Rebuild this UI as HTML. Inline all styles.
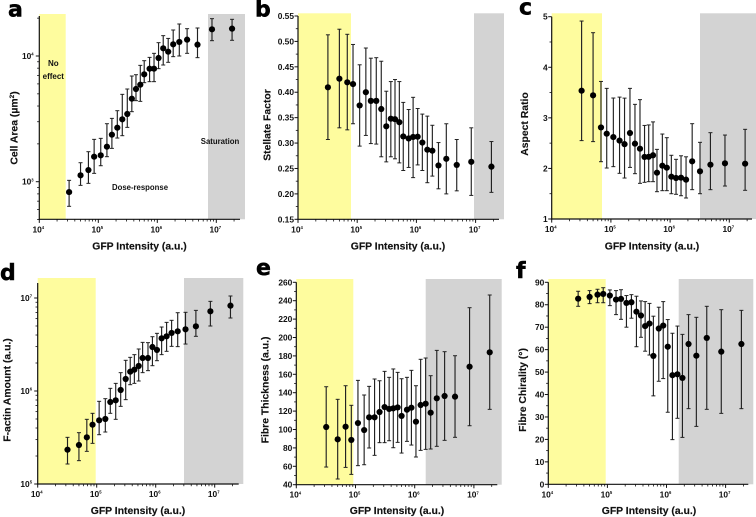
<!DOCTYPE html>
<html lang="en">
<head>
<meta charset="utf-8">
<title>GFP intensity dose-response panels</title>
<style>
html,body{margin:0;padding:0;background:#fff;}
body{width:756px;height:517px;overflow:hidden;}
svg{display:block;filter:blur(.3px);}
text{font-family:"Liberation Sans",sans-serif;font-weight:bold;fill:#111;}
.title{font-size:10.4px;text-anchor:middle;stroke:#111;stroke-width:.15px;}
.letter{font-family:"DejaVu Sans",sans-serif;font-size:22px;font-weight:bold;fill:#000;stroke:#000;stroke-width:.5px;}
.note{font-size:8px;text-anchor:middle;}
.tick{font-size:8.4px;}
.sup{font-size:4.2px;}
</style>
</head>
<body>
<svg id="figure" xmlns="http://www.w3.org/2000/svg" width="756" height="517" viewBox="0 0 756 517">
  <rect x="0" y="0" width="756" height="517" fill="#fff"/>

  <rect x="39.3" y="14" width="26.4" height="205.3" fill="#fefc9e"/>
  <rect x="208" y="14" width="37" height="205.3" fill="#d3d3d3"/>
  <rect x="298" y="13.3" width="53" height="206" fill="#fefc9e"/>
  <rect x="474" y="13.3" width="30" height="206" fill="#d3d3d3"/>
  <rect x="551.7" y="13.3" width="50.3" height="205.7" fill="#fefc9e"/>
  <rect x="700" y="13.3" width="56" height="205.7" fill="#d3d3d3"/>
  <rect x="37.7" y="278" width="58" height="206" fill="#fefc9e"/>
  <rect x="184" y="278" width="59.3" height="206" fill="#d3d3d3"/>
  <rect x="296.3" y="279" width="57" height="205.7" fill="#fefc9e"/>
  <rect x="425.7" y="279" width="76" height="205.7" fill="#d3d3d3"/>
  <rect x="548.3" y="279" width="57.4" height="205.3" fill="#fefc9e"/>
  <rect x="678.7" y="279" width="74.6" height="205.3" fill="#d3d3d3"/>

  <text class="letter" x="8" y="16.7">a</text>
  <text class="letter" x="255" y="16.7">b</text>
  <text class="letter" x="519" y="14.5">c</text>
  <text class="letter" x="0" y="280">d</text>
  <text class="letter" x="256" y="275">e</text>
  <text class="letter" x="516" y="278">f</text>

  <text class="note" x="53.3" y="66">No</text>
  <text class="note" x="53.3" y="79">effect</text>
  <text class="note" x="140" y="190" textLength="56" lengthAdjust="spacingAndGlyphs">Dose-response</text>
  <text class="note" x="220" y="144" textLength="38.5" lengthAdjust="spacingAndGlyphs">Saturation</text>

  <text class="title" x="139.5" y="249.5">GFP Intensity (a.u.)</text>
  <text class="title" x="398" y="249.5">GFP Intensity (a.u.)</text>
  <text class="title" x="652" y="249.5">GFP Intensity (a.u.)</text>
  <text class="title" x="138" y="514">GFP Intensity (a.u.)</text>
  <text class="title" x="397" y="514">GFP Intensity (a.u.)</text>
  <text class="title" x="649" y="514">GFP Intensity (a.u.)</text>

  <text class="title" transform="translate(17.5,128) rotate(-90)">Cell Area (µm<tspan font-size="6.5" dy="-3.5">2</tspan><tspan dy="3.5">)</tspan></text>
  <text class="title" transform="translate(270.5,125) rotate(-90)">Stellate Factor</text>
  <text class="title" transform="translate(528,124) rotate(-90)">Aspect Ratio</text>
  <text class="title" transform="translate(10.5,390) rotate(-90)">F-actin Amount (a.u.)</text>
  <text class="title" transform="translate(268.5,390) rotate(-90)">Fibre Thickness (a.u.)</text>
  <text class="title" transform="translate(526,390) rotate(-90)">Fibre Chirality (°)</text>
</svg>

<script>
const gfpIntensity = [3.2e4,5e4,6.8e4,8.5e4,1.1e5,1.4e5,1.7e5,2.1e5,2.55e5,3.1e5,3.7e5,4.35e5,5.15e5,6e5,7.4e5,8.8e5,1.05e6,1.26e6,1.53e6,1.86e6,2.36e6,3.2e6,4.8e6,8.45e6,1.85e7];
const xTickExponents = [4,5,6,7];

const cellAreaMean = [827,1123,1238,1581,1620,1899,2366,2690,3133,3456,4576,5462,5914,7146,7929,7929,9638,11510,10826,12380,12925,13490,12310,16300,16500];
const cellAreaLow = [637,935,970,1165,1340,1581,1841,2225,2323,2705,3606,4412,4356,6135,6250,6250,7930,8480,8905,9880,10000,10500,9700,13240,13330];
const cellAreaHigh = [1025,1416,1733,2172,2212,2894,3190,3673,4954,5462,6930,7100,8425,9180,9750,10500,12770,14520,13800,16100,17970,16500,16700,19820,19580];
const cellAreaTickExponents = [3,4];

const stellateMean = [.4097,.4267,.4195,.416,.374,.4,.383,.383,.367,.333,.348,.347,.341,.313,.309,.312,.3125,.301,.287,.285,.256,.269,.257,.263,.2536];
const stellateLow = [.307,.33,.326,.338,.294,.315,.299,.298,.273,.263,.273,.269,.261,.246,.252,.232,.257,.246,.222,.235,.21,.2,.206,.197,.203];
const stellateHigh = [.513,.524,.514,.494,.454,.487,.467,.468,.461,.402,.421,.425,.421,.38,.366,.39,.368,.357,.353,.335,.301,.338,.307,.33,.303];
const stellateTicks = [.15,.2,.25,.3,.35,.4,.45,.5,.55];

const aspectMean = [3.537,3.445,2.81,2.687,2.62,2.55,2.48,2.7,2.49,2.39,2.226,2.23,2.26,1.916,2.054,2.015,1.837,1.81,1.817,1.778,2.14,1.942,2.074,2.1,2.094];
const aspectLow = [2.55,2.53,2.133,2.008,2.035,1.903,1.81,2.02,1.896,1.705,1.725,1.738,1.738,1.54,1.56,1.56,1.5,1.488,1.46,1.415,1.58,1.5,1.58,1.652,1.567];
const aspectHigh = [4.914,4.684,3.72,3.583,3.392,3.41,3.39,3.583,3.267,3.36,2.85,2.86,2.92,2.377,2.68,2.608,2.26,2.18,2.25,2.23,2.885,2.516,2.707,2.66,2.773];
const aspectTicks = [1,2,3,4,5];

const actinMean = [234000,262600,317500,434500,483700,500000,761500,793600,1025000,1346000,1614000,1696000,1857000,2263000,2263000,2972000,2761000,3683000,3872000,4206000,4381000,4602000,4959000,7193000,8273000];
const actinLow = [164100,178200,224400,273500,338900,362200,575400,495900,683900,807200,1169000,1208000,1281000,1575000,1655000,1871000,2118000,2460000,2670000,3020000,2999000,3199000,3872000,5000000,6095000];
const actinHigh = [317500,356400,495900,575400,774500,827300,1068000,1208000,1575000,2138000,2301000,2460000,2829000,3334000,3311000,3837000,4169000,4875000,5470000,5754000,6950000,7015000,7362000,9205000,10510000];
const actinTickExponents = [5,6,7];

const thicknessMean = [102.7,89.3,103,88.6,107,99.4,113.2,113.2,119,124.4,122.3,123,124,114.7,121.5,123.7,108.5,126.6,128,118.3,133.9,136.4,135.7,168.3,183.9];
const thicknessLow = [59.2,46.2,58.8,51.2,60.7,61.7,79.9,71.9,85.7,85.7,87.8,80.2,86,74.4,87.1,83.1,70.1,77.3,78.4,78.8,81.7,88.2,91.5,104.1,121.9];
const thicknessHigh = [146.5,132.8,147.6,126.3,153.4,137.5,146.9,154.9,153,163.2,156.7,165.8,162.1,155.2,156.7,164.3,147.6,176.3,177.7,158.5,186,184.6,180.2,232.4,246.2];
const thicknessTicks = [40,60,80,100,120,140,160,180,200,220,240,260];

const chiralityMean = [82.7,83.5,84.5,84.8,84.1,82.3,82.6,80.8,81.1,76.9,75.2,70.5,71.6,57.2,69.4,70.7,61.3,48.6,49,47.4,62.5,57.3,65.2,59.1,62.5];
const chiralityLow = [79.3,80.5,80.9,80.9,79.6,75.6,73.5,70,74,61.3,65.5,59.3,57.6,39.4,45.9,47.1,32.1,19.9,29.4,20.9,33.7,25.8,33.4,31.6,33.7];
const chiralityHigh = [86,86.3,86.9,87.6,86.6,86.3,86.7,84.1,84.5,83.8,81.7,81.4,80.6,74.9,78.9,81.4,73.4,67.3,70.5,66.8,75.6,74.4,79.3,77.8,77.5];
const chiralityTicks = [0,10,20,30,40,50,60,70,80,90];

const NS = 'http://www.w3.org/2000/svg';
const figure = document.getElementById('figure');

function addLine(parent, name, x1, y1, x2, y2, color, width) {
  const line = document.createElementNS(NS, 'line');
  
  
  line.setAttribute('x1', x1);
  line.setAttribute('y1', y1);
  line.setAttribute('x2', x2);
  line.setAttribute('y2', y2);
  line.setAttribute('stroke', color);
  line.setAttribute('stroke-width', width);
  parent.appendChild(line);
}

function addTickLabel(parent, name, x, y, anchor, base, exponent) {
  const label = document.createElementNS(NS, 'text');
  
  
  label.setAttribute('class', 'tick');
  label.setAttribute('x', x);
  label.setAttribute('y', y);
  label.setAttribute('text-anchor', anchor);
  label.textContent = base;
  if (exponent !== null) {
    const sup = document.createElementNS(NS, 'tspan');
    sup.setAttribute('class', 'sup');
    sup.setAttribute('dy', '-3.4');
    sup.textContent = exponent;
    label.appendChild(sup);
  }
  parent.appendChild(label);
}

function logAxis(v0, y0, v1, y1) {
  const k = (y1 - y0) / (Math.log10(v1) - Math.log10(v0));
  return function (v) { return y0 + (Math.log10(v) - Math.log10(v0)) * k; };
}

function linearAxis(v0, y0, v1, y1) {
  const k = (y1 - y0) / (v1 - v0);
  return function (v) { return y0 + (v - v0) * k; };
}

function drawPanel(key, p, mean, low, high) {
  const group = document.createElementNS(NS, 'g');
  
  
  figure.appendChild(group);

  const xAt = function (v) { return p.x0 + (Math.log10(v) - 4) * p.decade; };
  const axisColor = '#111';

  addLine(group, 'panel-' + key + '-x-axis', p.x0 - 0.6, p.yBottom, p.xEnd, p.yBottom, axisColor, 1.2);
  addLine(group, 'panel-' + key + '-y-axis', p.x0, p.yTop, p.x0, p.yBottom + 0.6, axisColor, 1.2);

  xTickExponents.forEach(function (e) {
    const major = Math.pow(10, e);
    const px = xAt(major);
    addLine(group, 'panel-' + key + '-x-tick', px, p.yBottom, px, p.yBottom + 3.6, axisColor, 1);
    addTickLabel(group, 'panel-' + key + '-x-tick-label', px - 1, p.yBottom + 13, 'middle', '10', String(e));
    for (let m = 2; m <= 9; m++) {
      const mx = xAt(major * m);
      if (mx <= p.xEnd) {
        addLine(group, 'panel-' + key + '-x-minor-tick', mx, p.yBottom, mx, p.yBottom + 2.2, axisColor, 0.8);
      }
    }
  });

  p.drawYTicks(group, key, axisColor);

  gfpIntensity.forEach(function (g, i) {
    const px = xAt(g);
    const yHigh = p.yAt(high[i]);
    const yLow = p.yAt(low[i]);
    addLine(group, 'panel-' + key + '-error-bar', px, yHigh, px, yLow, '#222', 1.15);
    addLine(group, 'panel-' + key + '-error-cap-high', px - 2, yHigh, px + 2, yHigh, '#222', 1);
    addLine(group, 'panel-' + key + '-error-cap-low', px - 2, yLow, px + 2, yLow, '#222', 1);
    const dot = document.createElementNS(NS, 'circle');
    
    
    dot.setAttribute('cx', px);
    dot.setAttribute('cy', p.yAt(mean[i]));
    dot.setAttribute('r', 3.1);
    dot.setAttribute('fill', '#000');
    group.appendChild(dot);
  });
}

function logYTicks(yAt, exponents, vMin, vMax, x0) {
  return function (group, key, axisColor) {
    exponents.forEach(function (e) {
      const major = Math.pow(10, e);
      addLine(group, 'panel-' + key + '-y-tick', x0 - 3.5, yAt(major), x0, yAt(major), axisColor, 1);
      addTickLabel(group, 'panel-' + key + '-y-tick-label', x0 - 11.5, yAt(major) + 3, 'middle', '10', String(e));
    });
    const first = exponents[0] - 1;
    const last = exponents[exponents.length - 1];
    for (let e = first; e <= last; e++) {
      for (let m = 2; m <= 9; m++) {
        const v = m * Math.pow(10, e);
        if (v >= vMin && v <= vMax) {
          addLine(group, 'panel-' + key + '-y-minor-tick', x0 - 2.2, yAt(v), x0, yAt(v), axisColor, 0.8);
        }
      }
    }
  };
}

function linearYTicks(yAt, ticks, decimals, x0) {
  return function (group, key, axisColor) {
    const step = ticks[1] - ticks[0];
    ticks.forEach(function (t, i) {
      addLine(group, 'panel-' + key + '-y-tick', x0 - 3.5, yAt(t), x0, yAt(t), axisColor, 1);
      addTickLabel(group, 'panel-' + key + '-y-tick-label', x0 - 4, yAt(t) + 3, 'end', t.toFixed(decimals), null);
      if (i < ticks.length - 1) {
        const half = t + step / 2;
        addLine(group, 'panel-' + key + '-y-minor-tick', x0 - 2.2, yAt(half), x0, yAt(half), axisColor, 0.8);
      }
    });
  };
}

const aY = logAxis(1e3, 181.7, 1e4, 56);
drawPanel('a', {x0: 39.3, decade: 59, xEnd: 240, yBottom: 219.3, yTop: 16, yAt: aY,
  drawYTicks: logYTicks(aY, cellAreaTickExponents, 500, 20000, 39.3)}, cellAreaMean, cellAreaLow, cellAreaHigh);

const bY = linearAxis(.15, 219.3, .55, 16);
drawPanel('b', {x0: 298, decade: 59.2, xEnd: 499, yBottom: 219.3, yTop: 16, yAt: bY,
  drawYTicks: linearYTicks(bY, stellateTicks, 2, 298)}, stellateMean, stellateLow, stellateHigh);

const cY = linearAxis(1, 219, 5, 16.7);
drawPanel('c', {x0: 551.7, decade: 59.2, xEnd: 752, yBottom: 219, yTop: 16.7, yAt: cY,
  drawYTicks: linearYTicks(cY, aspectTicks, 0, 551.7)}, aspectMean, aspectLow, aspectHigh);

const dY = logAxis(1e5, 484, 1e7, 298);
drawPanel('d', {x0: 37.7, decade: 59, xEnd: 238.7, yBottom: 484, yTop: 283, yAt: dY,
  drawYTicks: logYTicks(dY, actinTickExponents, 1e5, 1.4e7, 37.7)}, actinMean, actinLow, actinHigh);

const eY = linearAxis(40, 484.7, 260, 282.3);
drawPanel('e', {x0: 296.3, decade: 59.2, xEnd: 497.3, yBottom: 484.7, yTop: 282.3, yAt: eY,
  drawYTicks: linearYTicks(eY, thicknessTicks, 0, 296.3)}, thicknessMean, thicknessLow, thicknessHigh);

const fY = linearAxis(0, 484.3, 90, 282.3);
drawPanel('f', {x0: 548.3, decade: 59.1, xEnd: 748.3, yBottom: 484.3, yTop: 282.3, yAt: fY,
  drawYTicks: linearYTicks(fY, chiralityTicks, 0, 548.3)}, chiralityMean, chiralityLow, chiralityHigh);
</script>
</body>
</html>
